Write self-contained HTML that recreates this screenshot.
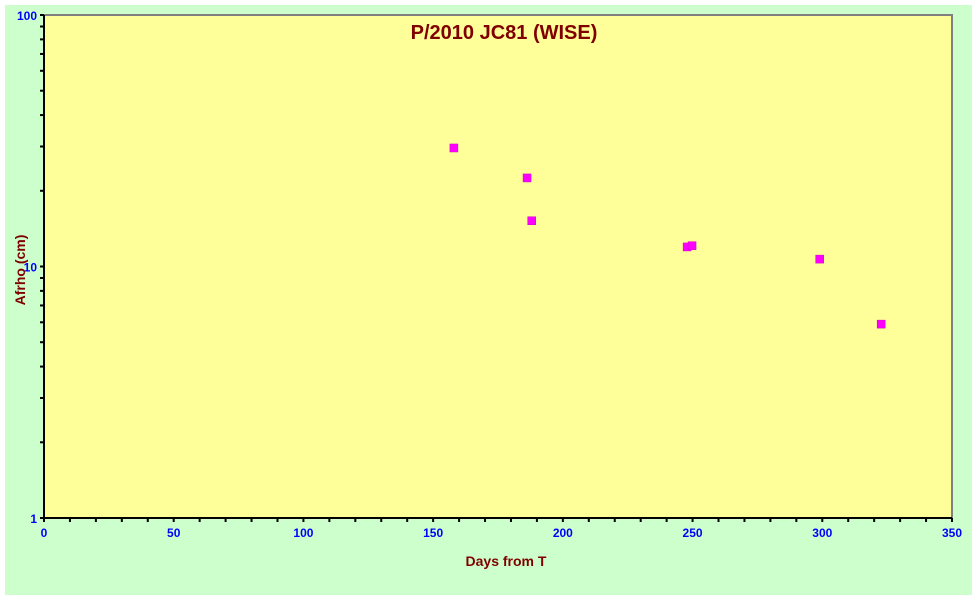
<!DOCTYPE html>
<html><head><meta charset="utf-8"><style>
body{margin:0;background:#fff;width:976px;height:599px;overflow:hidden}
svg{display:block;font-family:"Liberation Sans",Arial,sans-serif}
</style></head><body>
<svg width="976" height="599">
<rect x="5" y="5" width="967" height="590" fill="#ccffcc"/>
<rect x="44" y="15" width="908" height="503" fill="#ffff99" stroke="#808080" stroke-width="2"/>
<g id="axes"></g>
<g id="marks"></g>
<text x="504" y="39" text-anchor="middle" font-size="20" font-weight="bold" fill="#800000">P/2010 JC81 (WISE)</text>
<text x="506" y="566" text-anchor="middle" font-size="14" font-weight="bold" fill="#800000">Days from  T</text>
<text transform="translate(25,270) rotate(-90)" text-anchor="middle" font-size="14" font-weight="bold" fill="#800000">Afrho (cm)</text>
</svg>
<script>
const days = [158, 186.2, 188, 247.9, 249.8, 299, 322.7];
const afrho = [29.6, 22.5, 15.2, 11.96, 12.1, 10.7, 5.9];
const xTicks = [0, 50, 100, 150, 200, 250, 300, 350];
const yTicks = [1, 10, 100];
const NS = "http://www.w3.org/2000/svg";
const X0 = 44, X1 = 952, Y0 = 518, Y1 = 15;
function xs(v){ return X0 + (v - 0) / 350 * (X1 - X0); }
function ys(v){ return Y0 - (Math.log10(v) - 0) / 2 * (Y0 - Y1); }
function mk(tag, attrs, parent){ const e = document.createElementNS(NS, tag); for (const k in attrs) e.setAttribute(k, attrs[k]); parent.appendChild(e); return e; }
const ax = document.getElementById('axes');
const mg = document.getElementById('marks');
let l = mk('line', {x1:X0, y1:Y1, x2:X0, y2:Y0, stroke:'#000', 'stroke-width':2}, ax);


l = mk('line', {x1:X0, y1:Y0, x2:X1, y2:Y0, stroke:'#000', 'stroke-width':2}, ax);


for (let v = 0; v <= 350; v += 10) {
  const t = mk('line', {x1:xs(v), y1:Y0, x2:xs(v), y2:Y0 + 4, stroke:'#000', 'stroke-width':2}, ax);
  
  
}
xTicks.forEach(v => {
  const t = mk('text', {x:xs(v), y:Y0 + 19, 'text-anchor':'middle', 'font-size':12, 'font-weight':'bold', fill:'#0000ff'}, ax);
  t.textContent = v;
  
  
});
for (let d = 0; d < 2; d++) for (let m = 1; m <= 10; m++) {
  const v = m * Math.pow(10, d);
  const t = mk('line', {x1:X0 - 4, y1:ys(v), x2:X0, y2:ys(v), stroke:'#000', 'stroke-width':2}, ax);
  
  
}
yTicks.forEach(v => {
  const t = mk('text', {x:X0 - 7, y:ys(v) + 5, 'text-anchor':'end', 'font-size':12, 'font-weight':'bold', fill:'#0000ff'}, ax);
  t.textContent = v;
  
  
});
days.forEach((d, i) => {
  const p = mk('rect', {x:xs(d) - 4, y:ys(afrho[i]) - 4, width:8, height:8, fill:'#ff00ff', stroke:'#cc00cc', 'stroke-width':0.5}, mg);
  
  
});
</script>
</body></html>
